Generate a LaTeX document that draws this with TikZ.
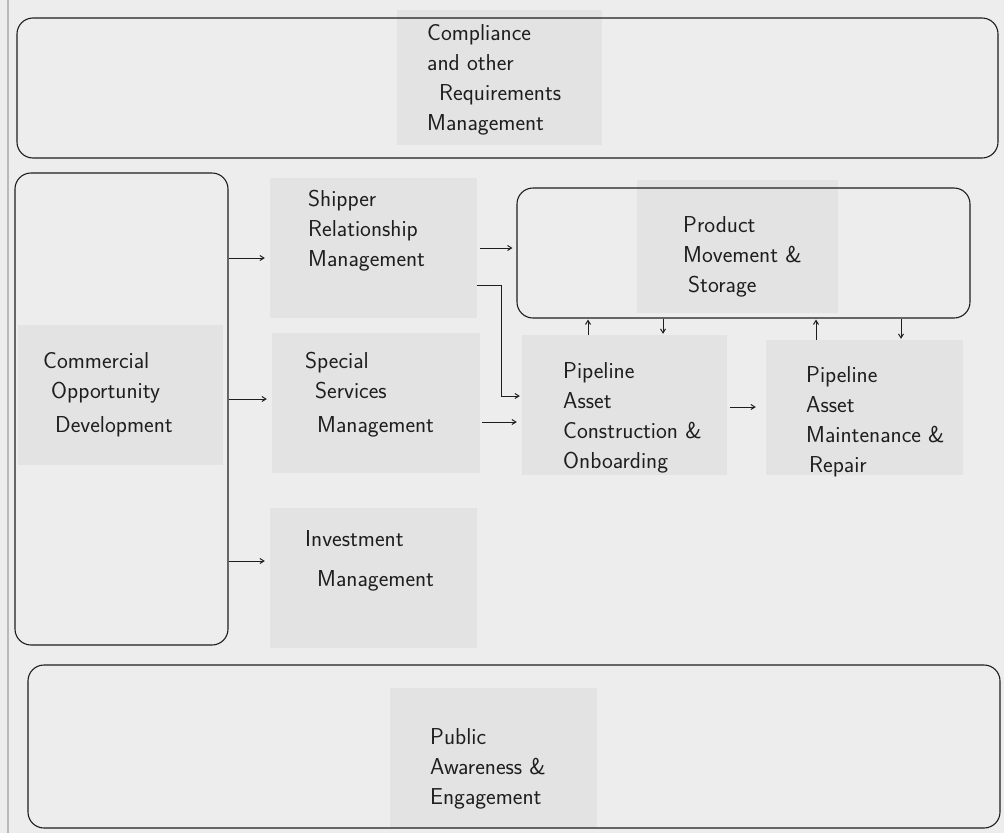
\documentclass[tikz,border=0pt]{standalone}
\usetikzlibrary{positioning,arrows.meta}
\definecolor{paper}{RGB}{237,237,237}
\definecolor{notegray}{RGB}{227,227,227}
\definecolor{pen}{RGB}{30,30,30}
\newcommand\hand{\sffamily\fontsize{23}{30}\selectfont}
\tikzset{
  note/.style={fill=notegray, inner sep=0pt},
  scribble/.style={font=\hand, align=left, inner sep=0pt, anchor=north west, text=pen},
  frame/.style={draw=pen, line width=1.1pt, rounded corners=16pt, inner sep=0pt},
  link/.style={draw=pen, line width=1pt, -{Straight Barb[length=4pt,width=5pt]}}
}
\begin{document}
\begin{tikzpicture}[x=1pt,y=-1pt]
  \useasboundingbox (0,0) rectangle (1004,833);
  \fill[paper] (0,0) rectangle (1004,833);
  \draw[gray!55,line width=2.5pt] (8,0) -- (8,833);
  % sticky notes
  \node[note, minimum width=205, minimum height=135] (compl) at (499.5,77.5) {};
  \node[note, minimum width=207, minimum height=140] (shipper) at (373.5,248) {};
  \node[note, minimum width=208, minimum height=140] (special) at (376,403) {};
  \node[note, minimum width=207, minimum height=140] (invest) at (373.5,578) {};
  \node[note, minimum width=205, minimum height=140] (commercial) at (120.5,395) {};
  \node[note, minimum width=201, minimum height=133] (product) at (737.5,246.5) {};
  \node[note, minimum width=205, minimum height=140] (construct) at (624.5,405) {};
  \node[note, minimum width=197, minimum height=135] (maint) at (864.5,407.5) {};
  \node[note, minimum width=207, minimum height=140] (public) at (493.5,758) {};
  % drawn frames
  \node[frame, minimum width=981, minimum height=140] (topband) at (507.5,88) {};
  \node[frame, minimum width=213, minimum height=472] (leftframe) at (121.5,409) {};
  \node[frame, minimum width=453, minimum height=130] (prodframe) at (743.5,253) {};
  \node[frame, minimum width=972, minimum height=163] (bottomband) at (514,746.5) {};
  % handwriting
  \node[scribble] at (427,24) {Compliance\\and other\\\hspace*{12pt}Requirements\\Management};
  \node[scribble] at (308,190) {Shipper\\Relationship\\Management};
  \node[scribble] at (305,352) {Special\\[0pt]\hspace*{10pt}Services\\[4pt]\hspace*{12pt}Management};
  \node[scribble] at (305,530) {Investment\\[10pt]\hspace*{12pt}Management};
  \node[scribble] at (43,352) {Commercial\\[0pt]\hspace*{8pt}Opportunity\\[4pt]\hspace*{12pt}Development};
  \node[scribble] at (683,216) {Product\\Movement \&\\\hspace*{5pt}Storage};
  \node[scribble] at (563,362) {Pipeline\\Asset\\Construction \&\\Onboarding};
  \node[scribble] at (806,366) {Pipeline\\Asset\\Maintenance \&\\\hspace*{3pt}Repair};
  \node[scribble] at (430,728) {Public\\Awareness \&\\Engagement};
  % arrows
  \foreach \n/\y in {shipper/258,special/399,invest/561}
    \draw[link, shorten >=5pt] (leftframe.east |- 0,\y) -- (\n.west |- 0,\y);
  \draw[link, shorten <=3pt, shorten >=4pt] (shipper.east |- 0,248) -- (prodframe.west |- 0,248);
  \coordinate (bend) at (501,285);
  \draw[link, shorten >=2pt] (shipper.east |- bend) -- (bend) |- (construct.west |- 0,396);
  \draw[link, shorten <=2pt, shorten >=5pt] (special.east |- 0,422) -- (construct.west |- 0,422);
  \draw[link, shorten <=3pt, shorten >=10pt] (construct.east |- 0,407) -- (maint.west |- 0,407);
  \foreach \x/\a/\b in {588/construct/prodframe,816/maint/prodframe}
    \draw[link, shorten >=1pt] (\x,0 |- \a.north) -- (\x,0 |- \b.south);
  \foreach \x/\a/\b in {663/prodframe/construct,901/prodframe/maint}
    \draw[link, shorten >=1pt] (\x,0 |- \a.south) -- (\x,0 |- \b.north);
\end{tikzpicture}
\end{document}
